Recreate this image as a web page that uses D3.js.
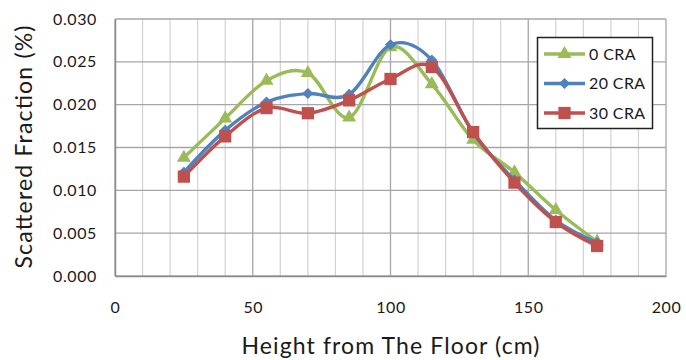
<!DOCTYPE html>
<html>
<head>
<meta charset="utf-8">
<script src="https://cdn.jsdelivr.net/npm/d3@7"></script>
<style>
  html, body { margin: 0; padding: 0; background: #fff; }
  svg { display: block; font-family: Lato, "Open Sans", sans-serif; }
</style>
</head>
<body>
<svg id="chart" width="686" height="360"></svg>
<script>
// Measurement heights (cm)
const heights = [25, 40, 55, 70, 85, 100, 115, 130, 145, 160, 175];

// Scattered fraction (%) per configuration
const cra0  = [0.0138, 0.0184, 0.0228, 0.0237, 0.0185, 0.0267, 0.0224, 0.0159, 0.0121, 0.0077, 0.0040];
const cra20 = [0.0121, 0.0170, 0.0203, 0.0213, 0.0212, 0.0270, 0.0252, 0.0167, 0.0112, 0.0065, 0.0039];
const cra30 = [0.0116, 0.0163, 0.0196, 0.0190, 0.0205, 0.0230, 0.0244, 0.0168, 0.0109, 0.0063, 0.0035];

const seriesNames = ["0 CRA", "20 CRA", "30 CRA"];
const xTicks = [0, 50, 100, 150, 200];
const yTicks = [0.000, 0.005, 0.010, 0.015, 0.020, 0.025, 0.030];

const series = [
  { name: seriesNames[0], values: cra0,  color: "#9BBB59", symbol: d3.symbolTriangle, size: 85,  rotate: 0 },
  { name: seriesNames[1], values: cra20, color: "#4F81BD", symbol: d3.symbolSquare,   size: 62,  rotate: 45 },
  { name: seriesNames[2], values: cra30, color: "#C0504D", symbol: d3.symbolSquare,   size: 150, rotate: 0 }
];

const svg = d3.select("#chart");
const plot = { left: 115, right: 666, top: 19, bottom: 276 };

const x = d3.scaleLinear().domain([0, 200]).range([plot.left, plot.right]);
const y = d3.scaleLinear().domain([0, 0.030]).range([plot.bottom, plot.top]);

// Grid: minor verticals every 10 cm, major every 50 cm, horizontals every 0.005
const g = svg.append("g");
d3.range(10, 200, 10).filter(v => v % 50 !== 0).forEach(v => {
  g.append("line").attr("x1", x(v)).attr("x2", x(v))
    .attr("y1", plot.top).attr("y2", plot.bottom)
    .attr("stroke", "#d2d2d2").attr("stroke-width", 1.2);
});
xTicks.forEach(v => {
  g.append("line").attr("x1", x(v)).attr("x2", x(v))
    .attr("y1", plot.top).attr("y2", plot.bottom)
    .attr("stroke", "#a6a6a6").attr("stroke-width", 1.3);
});
yTicks.forEach(v => {
  g.append("line").attr("x1", plot.left).attr("x2", plot.right)
    .attr("y1", y(v)).attr("y2", y(v))
    .attr("stroke", "#a6a6a6").attr("stroke-width", 1.3);
});

// Axes (labels only, no tick marks)
const xAxis = svg.append("g")
  .attr("transform", `translate(0,${plot.bottom})`)
  .call(d3.axisBottom(x).tickValues(xTicks).tickSize(0).tickPadding(26).tickFormat(d3.format("d")));
const yAxis = svg.append("g")
  .attr("transform", `translate(${plot.left},0)`)
  .call(d3.axisLeft(y).tickValues(yTicks).tickSize(0).tickPadding(18).tickFormat(d3.format(".3f")));
[xAxis, yAxis].forEach(a => {
  a.select(".domain").attr("stroke", "#8c8c8c").attr("stroke-width", 1.5);
  a.selectAll("text").attr("font-family", "Lato, sans-serif").attr("font-size", 16)
    .attr("letter-spacing", "0.6px").attr("fill", "#1a1a1a");
});

// Smoothed series lines with markers
const line = d3.line()
  .x((d, i) => x(heights[i]))
  .y(d => y(d))
  .curve(d3.curveCardinal.tension(0));

series.forEach(s => {
  svg.append("path")
    .datum(s.values)
    .attr("d", line)
    .attr("fill", "none")
    .attr("stroke", s.color)
    .attr("stroke-width", 3.4);
  svg.append("g").selectAll("path")
    .data(s.values)
    .join("path")
    .attr("transform", (d, i) => `translate(${x(heights[i])},${y(d)}) rotate(${s.rotate})`)
    .attr("d", d3.symbol().type(s.symbol).size(s.size))
    .attr("fill", s.color);
});

// Legend
const lg = svg.append("g");
lg.append("rect").attr("x", 537.5).attr("y", 37.5).attr("width", 115).attr("height", 91)
  .attr("fill", "#fff").attr("stroke", "#222").attr("stroke-width", 1.5);
series.forEach((s, i) => {
  const cy = 54 + i * 29.5;
  lg.append("line").attr("x1", 544).attr("x2", 585).attr("y1", cy).attr("y2", cy)
    .attr("stroke", s.color).attr("stroke-width", 3.4);
  lg.append("path").attr("transform", `translate(564.5,${cy}) rotate(${s.rotate})`)
    .attr("d", d3.symbol().type(s.symbol).size(s.size)).attr("fill", s.color);
  lg.append("text").attr("x", 589).attr("y", cy).attr("dy", "0.36em")
    .attr("font-size", 16).attr("letter-spacing", "0.4px").attr("fill", "#1a1a1a").text(s.name);
});

// Axis titles
svg.append("text")
  .attr("x", x(100)).attr("y", 354)
  .attr("text-anchor", "middle").attr("font-size", 23).attr("fill", "#1a1a1a")
  .attr("textLength", 298).attr("lengthAdjust", "spacing")
  .text("Height from The Floor (cm)");
svg.append("text")
  .attr("transform", `translate(32,147) rotate(-90)`)
  .attr("text-anchor", "middle").attr("font-size", 23).attr("fill", "#1a1a1a")
  .attr("textLength", 243).attr("lengthAdjust", "spacing")
  .text("Scattered Fraction (%)");
</script>
</body>
</html>
